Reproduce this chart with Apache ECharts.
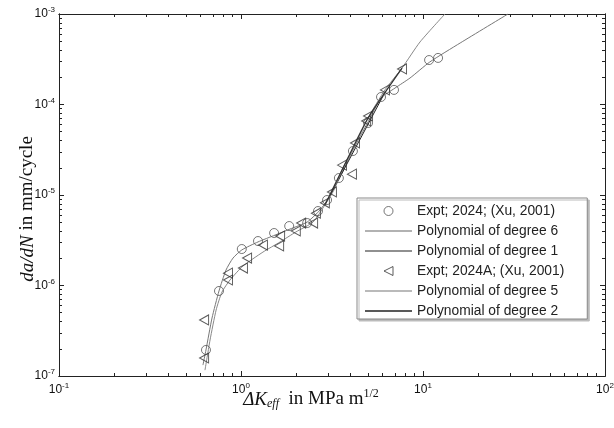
<!DOCTYPE html>
<html><head><meta charset="utf-8">
<script src="https://cdn.jsdelivr.net/npm/echarts@6/dist/echarts.min.js"></script>
<style>html,body{margin:0;padding:0;background:#fff}#c{width:614px;height:428px}</style>
</head><body><div id="c"></div>
<script>
// ---- data ----
var circleX = [0.642,0.757,1.01,1.24,1.52,1.84,2.31,2.65,2.97,3.45,4.12,4.99,5.88,6.93,10.8,12.1];
var circleY = [1.94e-7,8.7e-7,2.53e-6,3.1e-6,3.8e-6,4.54e-6,4.9e-6,6.65e-6,8.8e-6,1.54e-5,3.06e-5,6.25e-5,1.21e-4,1.45e-4,3.1e-4,3.27e-4];
var triX = [0.627,0.627,0.848,0.848,1.025,1.08,1.32,1.62,1.64,2.0,2.14,2.49,2.58,2.89,3.16,3.59,4.07,4.23,4.87,4.99,6.18,7.67];
var triY = [1.58e-7,4.16e-7,1.15e-6,1.37e-6,1.56e-6,2.01e-6,2.8e-6,2.74e-6,3.52e-6,4.0e-6,4.9e-6,4.9e-6,6.3e-6,8.2e-6,1.08e-5,2.14e-5,1.7e-5,3.76e-5,6.58e-5,7.46e-5,1.45e-4,2.47e-4];
var deg6X = [0.618,0.642,0.693,0.757,0.827,0.904,1.01,1.24,1.54,1.86,2.31,2.72,3.08,3.50,4.12,4.99,5.88,7.02,8.48,10.9,16.0,29.3];
var deg6Y = [1.32e-7,1.94e-7,4.37e-7,8.7e-7,1.48e-6,2.01e-6,2.47e-6,3.03e-6,3.61e-6,4.21e-6,5.03e-6,6.83e-6,9.75e-6,1.58e-5,3.14e-5,6.41e-5,1.18e-4,1.52e-4,1.96e-4,2.95e-4,4.78e-4,1.0e-3];
var deg1X = [3.08,6.03];
var deg1Y = [9.75e-6,1.24e-4];
var deg5X = [0.634,0.676,0.730,0.786,0.870,1.025,1.32,1.64,2.0,2.49,2.89,3.24,3.59,4.23,4.99,6.18,7.67,9.63,13.2];
var deg5Y = [1.16e-7,2.5e-7,5.36e-7,8.47e-7,1.15e-6,1.64e-6,2.34e-6,3.03e-6,3.9e-6,5.03e-6,7.76e-6,1.13e-5,1.89e-5,3.56e-5,7.1e-5,1.45e-4,2.53e-4,4.91e-4,1.0e-3];
var deg2X = [2.89,3.59,4.99,7.67];
var deg2Y = [7.76e-6,1.89e-5,7.1e-5,2.53e-4];

var xMajor = [0.1,1,10,100];
var xMajorLabels = ['-1','0','1','2'];
var xMinor = [0.2,0.3,0.4,0.5,0.6,0.7,0.8,0.9,2,3,4,5,6,7,8,9,20,30,40,50,60,70,80,90];
var yMajor = [1e-7,1e-6,1e-5,1e-4,1e-3];
var yMajorLabels = ['-7','-6','-5','-4','-3'];
var yMinor = [2e-7,3e-7,4e-7,5e-7,6e-7,7e-7,8e-7,9e-7,2e-6,3e-6,4e-6,5e-6,6e-6,7e-6,8e-6,9e-6,2e-5,3e-5,4e-5,5e-5,6e-5,7e-5,8e-5,9e-5,2e-4,3e-4,4e-4,5e-4,6e-4,7e-4,8e-4,9e-4];

var names = ['Expt; 2024; (Xu, 2001)','Polynomial of degree 6','Polynomial of degree 1','Expt; 2024A; (Xu, 2001)','Polynomial of degree 5','Polynomial of degree 2'];

function zip(a,b){return a.map(function(v,i){return [v,b[i]];});}
function lblFmt(majors, labels){
  return function(v){
    var idx = 0, best = 1e9;
    for (var i=0;i<majors.length;i++){var d=Math.abs(Math.log10(v)-Math.log10(majors[i])); if(d<best){best=d;idx=i;}}
    return '{b|10}{s|' + labels[idx] + '}';
  };
}
var tickRich = {
  b:{fontSize:12,fontFamily:'Liberation Sans',color:'#111'},
  s:{fontSize:8,fontFamily:'Liberation Sans',color:'#111',padding:[0,0,8,0]}
};
var lineCol = '#222';
function xAx(pos, vals, len, labels, extra){
  var a = {type:'log',logBase:10,min:0.1,max:100,position:pos,gridIndex:0,nameMoveOverlap:false,
    axisLine:{show:true,lineStyle:{color:lineCol,width:1}},
    axisTick:{show:true,inside:true,length:len,customValues:vals,lineStyle:{color:lineCol,width:1}},
    axisLabel:{show:false},minorTick:{show:false},splitLine:{show:false}};
  if(labels){a.axisLabel={show:true,customValues:xMajor,formatter:lblFmt(xMajor,xMajorLabels),rich:tickRich,margin:6};}
  return Object.assign(a, extra||{});
}
function yAx(pos, vals, len, labels, extra){
  var a = {type:'log',logBase:10,min:1e-7,max:1e-3,position:pos,gridIndex:0,nameMoveOverlap:false,
    axisLine:{show:true,lineStyle:{color:lineCol,width:1}},
    axisTick:{show:true,inside:true,length:len,customValues:vals,lineStyle:{color:lineCol,width:1}},
    axisLabel:{show:false},minorTick:{show:false},splitLine:{show:false}};
  if(labels){a.axisLabel={show:true,customValues:yMajor,formatter:lblFmt(yMajor,yMajorLabels),rich:tickRich,margin:4};}
  return Object.assign(a, extra||{});
}
var lineIcon = 'path://M0,0H47V1.1H0Z';
var lineIconThick = 'path://M0,0H47V1.5H0Z';
var triIcon = 'path://M9,0L0,4.5L9,9Z';

var chart = echarts.init(document.getElementById('c'), null, {renderer:'canvas'});
var option = {
  animation:false,
  backgroundColor:'#fff',
  grid:{left:59,right:9,top:14,bottom:52,containLabel:false,outerBoundsMode:'none'},
  xAxis:[
    xAx('bottom', xMajor, 5, true, {
      name:'{i|ΔK}{sub|eff}{n|  in MPa m}{sup|1/2}', nameLocation:'middle', nameGap:12,
      nameTextStyle:{padding:[0,42,0,0],rich:{
        i:{fontFamily:'Liberation Serif',fontStyle:'italic',fontSize:19,color:'#111'},
        sub:{fontFamily:'Liberation Serif',fontStyle:'italic',fontSize:12,color:'#111',padding:[9,0,0,0]},
        n:{fontFamily:'Liberation Serif',fontSize:19,color:'#111'},
        sup:{fontFamily:'Liberation Serif',fontSize:12,color:'#111',padding:[0,0,11,0]}
      }}
    }),
    xAx('bottom', xMinor, 3, false),
    xAx('top', xMajor, 5, false),
    xAx('top', xMinor, 3, false)
  ],
  yAxis:[
    yAx('left', yMajor, 5, true, {
      name:'{i|da/dN}{n| in mm/cycle}', nameLocation:'middle', nameGap:22,
      nameTextStyle:{padding:[0,28,0,0],rich:{
        i:{fontFamily:'Liberation Serif',fontStyle:'italic',fontSize:19,color:'#111'},
        n:{fontFamily:'Liberation Serif',fontSize:19,color:'#111'}
      }}
    }),
    yAx('left', yMinor, 3, false),
    yAx('right', yMajor, 5, false),
    yAx('right', yMinor, 3, false)
  ],
  legend:{
    orient:'vertical', left:357, top:198,
    data:[
      {name:names[0],icon:'circle',itemStyle:{color:'transparent',borderColor:'#555',borderWidth:1}},
      {name:names[1],icon:lineIcon,itemStyle:{color:'#666',borderWidth:0}},
      {name:names[2],icon:lineIcon,itemStyle:{color:'#222',borderWidth:0}},
      {name:names[3],icon:triIcon,symbolRotate:0,itemStyle:{color:'transparent',borderColor:'#333',borderWidth:1}},
      {name:names[4],icon:lineIcon,itemStyle:{color:'#777',borderWidth:0}},
      {name:names[5],icon:lineIconThick,itemStyle:{color:'#222',borderWidth:0}}
    ],
    itemWidth:47, itemHeight:9, itemGap:4,
    symbolRotate:0,
    padding:[5,23,0,8],
    backgroundColor:'#fff', borderColor:'#888', borderWidth:1,
    shadowColor:'#bbb', shadowOffsetX:2, shadowOffsetY:2, shadowBlur:0,
    textStyle:{fontFamily:'Liberation Sans',fontSize:13.8,color:'#222',lineHeight:16},
    selectedMode:false
  },
  series:[
    {name:names[1],type:'line',data:zip(deg6X,deg6Y),showSymbol:false,symbol:'none',smooth:0.2,
      lineStyle:{color:'#777',width:1},itemStyle:{color:'#777'},z:2},
    {name:names[2],type:'line',data:zip(deg1X,deg1Y),showSymbol:false,symbol:'none',
      lineStyle:{color:'#222',width:1},itemStyle:{color:'#222'},z:2},
    {name:names[4],type:'line',data:zip(deg5X,deg5Y),showSymbol:false,symbol:'none',smooth:0.2,
      lineStyle:{color:'#888',width:1},itemStyle:{color:'#888'},z:2},
    {name:names[5],type:'line',data:zip(deg2X,deg2Y),showSymbol:false,symbol:'none',smooth:0.2,
      lineStyle:{color:'#333',width:1.3},itemStyle:{color:'#333'},z:2},
    {name:names[0],type:'scatter',data:zip(circleX,circleY),symbol:'circle',symbolSize:9,
      itemStyle:{color:'transparent',borderColor:'#555',borderWidth:1},z:3},
    {name:names[3],type:'scatter',data:zip(triX,triY),symbol:'triangle',symbolSize:[10,9],symbolRotate:90,
      itemStyle:{color:'transparent',borderColor:'#333',borderWidth:1},z:3}
  ]
};
chart.setOption(option);
</script>
</body></html>
